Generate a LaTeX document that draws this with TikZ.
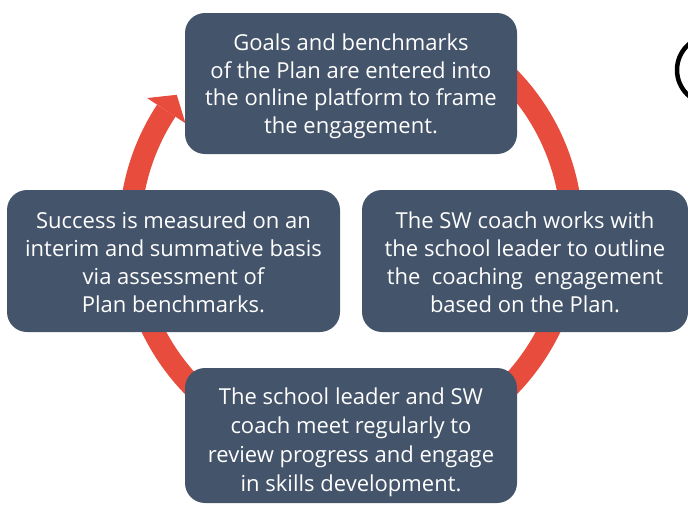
\documentclass[tikz,border=0pt]{standalone}
\usepackage{fontspec}
\setmainfont{Open Sans}
\usetikzlibrary{calc}
\definecolor{boxblue}{HTML}{44546A}
\definecolor{ringred}{HTML}{E84C3D}
\tikzset{
  stagebox/.style={fill=boxblue, rounded corners=20pt, inner sep=0pt},
  stagetext/.style={inner sep=0pt, text=white, align=center, font=\fontsize{22}{28}\selectfont},
  ring/.style={ringred, line width=22pt},
}
\begin{document}
\begin{tikzpicture}[x=1pt,y=-1pt]
\useasboundingbox (0,0) rectangle (688,504);
\clip (0,0) rectangle (688,504);
\coordinate (c) at (351,232);
% ring
\draw[ring] (c) ++(55:221pt) arc[start angle=55, end angle=-213.3, radius=221pt];
\coordinate (w1) at ($(c)+(146.7:244pt)$);
\coordinate (w2) at ($(c)+(146.7:198pt)$);
\coordinate (tip) at ($(c)+(146.7:221pt)+(56.7:19pt)$);
\fill[ringred] (w1) -- (tip) -- (w2) -- cycle;
% boxes
\node[stagebox, minimum width=332pt, minimum height=141pt] (goals) at (351,83.5) {};
\node[stagebox, minimum width=333pt, minimum height=142pt] (success) at (173.5,261) {};
\node[stagebox, minimum width=326pt, minimum height=142pt] (outline) at (525,261) {};
\node[stagebox, minimum width=332pt, minimum height=135pt] (meet) at (351,435.5) {};
% texts
\node[stagetext, font=\fontsize{22}{27.5}\selectfont] (goalstext) at ($(goals.center)+(0,3)$)
  {Goals and benchmarks\\of the Plan are entered into\\the online platform to frame\\the engagement.};
\node[stagetext] (successtext) at ($(success.center)+(0,1.5)$)
  {Success is measured on an\\interim and summative basis\\via assessment of\\Plan benchmarks.};
\node[stagetext] (outlinetext) at ($(outline.center)+(0,1.5)$)
  {The SW coach works with\\the school leader to outline\\the~~coaching~~engagement\\based on the Plan.};
\node[stagetext, font=\fontsize{22}{29}\selectfont] (meettext) at ($(meet.center)+(0,7)$)
  {The school leader and SW\\coach meet regularly to\\review progress and engage\\in skills development.};
% partial circle at top right
\coordinate (pc) at (711,70);
\draw[line width=4.5pt] (pc) circle[radius=34pt];
\end{tikzpicture}
\end{document}
